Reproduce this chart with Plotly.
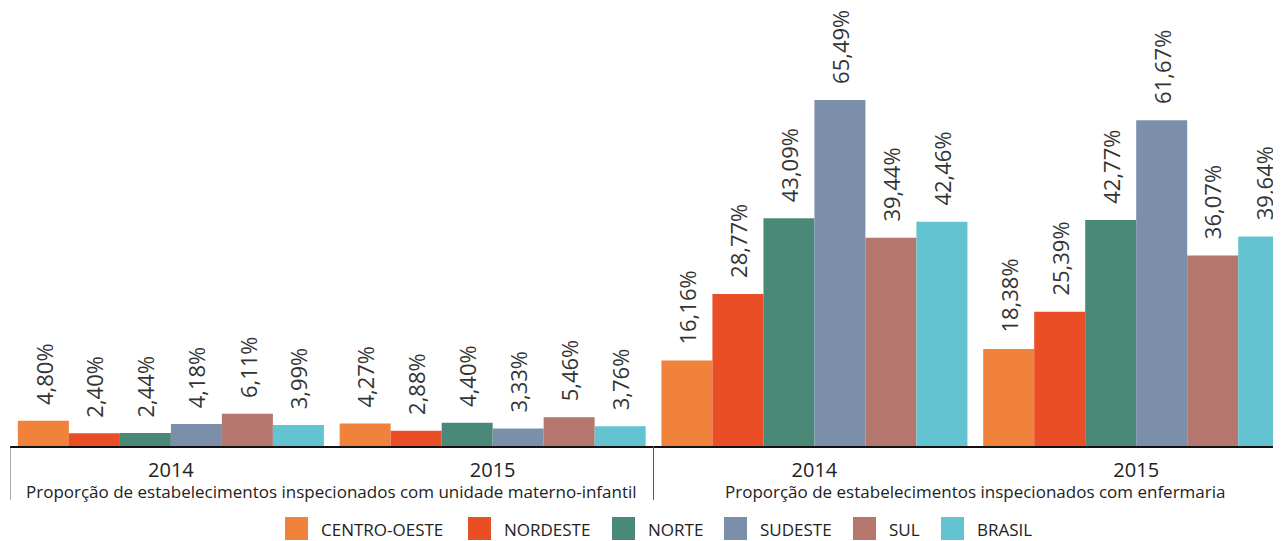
import plotly.graph_objects as go

groups = ["Proporção de estabelecimentos inspecionados com unidade materno-infantil",
          "Proporção de estabelecimentos inspecionados com enfermaria"]
years = ["2014", "2015", "2014", "2015"]
regions = ["CENTRO-OESTE", "NORDESTE", "NORTE", "SUDESTE", "SUL", "BRASIL"]
colors = ["#F0823C", "#E94E26", "#4A8878", "#7B8FAB", "#B5766D", "#63C3D0"]

centro_oeste = [4.80, 4.27, 16.16, 18.38]
nordeste = [2.40, 2.88, 28.77, 25.39]
norte = [2.44, 4.40, 43.09, 42.77]
sudeste = [4.18, 3.33, 65.49, 61.67]
sul = [6.11, 5.46, 39.44, 36.07]
brasil = [3.99, 3.76, 42.46, 39.64]
series = [centro_oeste, nordeste, norte, sudeste, sul, brasil]

# page has an 8px body margin; geometry below is in page pixels
OFF = 8
W, H = 1281 - OFF, 541 - OFF
PLOT_L, PLOT_T, PLOT_B = 10, OFF, 446
ML = PLOT_L - OFF
PW = W - ML
PH = PLOT_B - PLOT_T
MB = H - PH
BARGAP = 0.049
XR = [-0.5, 3.45]
YR = [0, PH / (346 / 65.49)]


def px_x(px):
    return (px - PLOT_L) / PW


def px_y(py):
    return (PLOT_B - py) / PH


xs = list(range(len(years)))
fig = go.Figure()
n = len(series)
bw = (1 - BARGAP) / n
annotations = []
for i, (name, vals, col) in enumerate(zip(regions, series, colors)):
    fig.add_trace(go.Bar(x=xs, y=vals, name=name, marker=dict(color=col, line=dict(width=0)),
                         showlegend=False, hoverinfo="y+name"))
    off = (i - (n - 1) / 2) * bw
    for x, v in zip(xs, vals):
        annotations.append(dict(x=x + off, y=v, xref="x", yref="y", text=f"{v:.2f}".replace(".", ",") + "%",
                                showarrow=False, textangle=-90, xanchor="center", yanchor="bottom",
                                yshift=14, font=dict(family="Open Sans", size=22, color="#333333")))

# group labels (centered on their pair of years)
grp_pos = [0.5, 2.5]
for g, gx in zip(groups, grp_pos):
    annotations.append(dict(x=gx, y=px_y(491), xref="x", yref="paper",
                            text=g, showarrow=False, xanchor="center", yanchor="middle",
                            font=dict(family="Open Sans", size=17, color="#222222")))

# legend (manual)
shapes = []
sq_left = [285, 468, 612, 724, 853, 941]
for name, col, px in zip(regions, colors, sq_left):
    shapes.append(dict(type="rect", xref="paper", yref="paper", x0=px_x(px), x1=px_x(px + 23),
                       y0=px_y(540), y1=px_y(517), fillcolor=col, line=dict(width=0)))
    annotations.append(dict(x=px_x(px + 34), y=px_y(529), xref="paper", yref="paper",
                            text=name, showarrow=False, xanchor="left", yanchor="middle",
                            font=dict(family="Open Sans", size=17, color="#222222")))

# dividers
for dx in [-0.5, 1.5]:
    shapes.append(dict(type="line", xref="x", yref="paper", x0=dx, x1=dx, y0=0, y1=px_y(500),
                       line=dict(color="#555555", width=1)))

fig.update_layout(
    width=W, height=H, margin=dict(l=ML, r=0, t=0, b=MB),
    paper_bgcolor="white", plot_bgcolor="white",
    barmode="group", bargap=BARGAP, bargroupgap=0,
    xaxis=dict(range=XR, tickvals=xs, ticktext=years, showgrid=False, zeroline=False,
               showline=True, linecolor="#111111", linewidth=1.5, ticks="", ticklabelstandoff=5,
               tickfont=dict(family="Open Sans", size=20, color="#222222")),
    yaxis=dict(range=YR, visible=False),
    annotations=annotations, shapes=shapes, showlegend=False,
)
fig.write_html("out.html")
